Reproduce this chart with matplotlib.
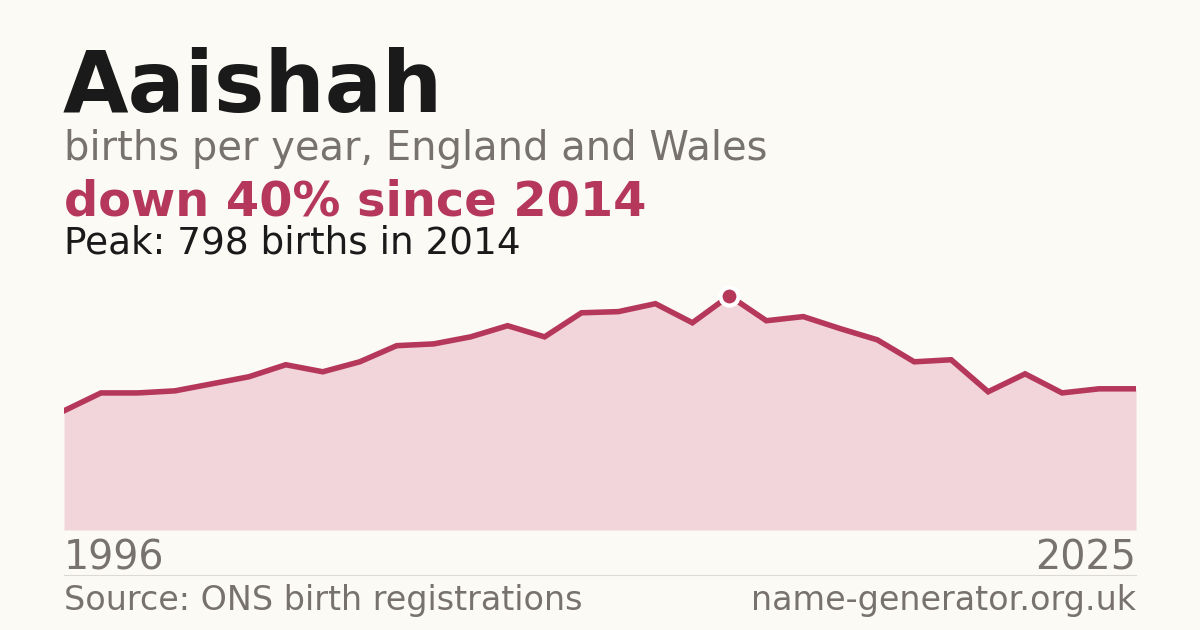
import numpy as np
import matplotlib.pyplot as plt

years = list(range(1996, 2026))
births = [406, 467, 467, 474, 498, 522, 563, 539, 573, 628,
          634, 658, 696, 658, 740, 744, 771, 706, 798, 713,
          727, 686, 648, 573, 580, 471, 532, 467, 481, 481]

name = "Aaishah"
subtitle = "births per year, England and Wales"
source = "Source: ONS birth registrations"
site = "name-generator.org.uk"

BG = "#fbfaf5"
RED = "#b5385a"
FILL = "#f2d5da"
GREY = "#78726c"
DARK = "#1a1a1a"

W, H = 1200, 630

plt.rcParams["font.family"] = ["DejaVu Sans"]


def fx(px):
    return px / W


def fy(py):
    return 1 - py / H


def plot_data():
    peak_i = int(np.argmax(births))
    peak_year, peak_val = years[peak_i], births[peak_i]
    change = round((births[-1] - peak_val) / peak_val * 100)

    fig = plt.figure(figsize=(12, 6.3), dpi=100)
    fig.patch.set_facecolor(BG)

    ax = fig.add_axes([fx(64), fy(530), fx(1136 - 64), 260 / H])
    ax.set_facecolor(BG)
    ax.fill_between(years, births, 0, color=FILL, lw=0)
    ax.plot(years, births, color=RED, lw=4.0, solid_joinstyle="miter")
    ax.plot([peak_year], [peak_val], "o", ms=13, color=RED,
            mec="white", mew=3, clip_on=False, zorder=5)
    ax.set_xlim(years[0], years[-1])
    ax.set_ylim(0, peak_val * 1.11)
    ax.axis("off")

    fig.text(fx(63), fy(112), name, fontsize=61, fontweight="bold",
             color=DARK, va="baseline")
    fig.text(fx(64), fy(160), subtitle, fontsize=28.8, color=GREY,
             va="baseline")
    word = "down" if change < 0 else "up"
    fig.text(fx(64), fy(215), f"{word} {abs(change)}% since {peak_year}",
             fontsize=34.5, fontweight="bold", color=RED, va="baseline")
    fig.text(fx(64), fy(254), f"Peak: {peak_val} births in {peak_year}",
             fontsize=26.9, color=DARK, va="baseline")

    fig.text(fx(64), fy(570), str(years[0]), fontsize=28.5, color=GREY,
             va="baseline")
    fig.text(fx(1136), fy(570), str(years[-1]), fontsize=28.5, color=GREY,
             va="baseline", ha="right")
    fig.add_artist(plt.Line2D([fx(64), fx(1136)], [fy(574.5), fy(574.5)],
                              color="#dddad2", lw=0.8))
    fig.text(fx(64), fy(610), source, fontsize=24, color=GREY,
             va="baseline")
    fig.text(fx(1136), fy(610), site, fontsize=24, color=GREY,
             va="baseline", ha="right")

    fig.savefig("out.png", dpi=100, facecolor=BG)


if __name__ == "__main__":
    plot_data()
